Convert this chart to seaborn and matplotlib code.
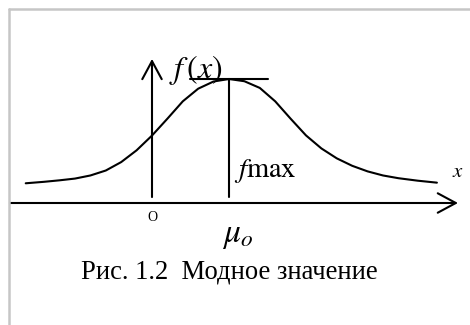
import matplotlib
matplotlib.use("Agg")
import matplotlib.pyplot as plt
from matplotlib.lines import Line2D
import seaborn as sns
import pandas as pd

# Density curve f(x), read point by point (x in units where O = 0, mode = 1; f_max = 1)
x_vals = [-1.64, -1.4, -1.2, -1.0, -0.8, -0.6, -0.4, -0.2, 0.0, 0.2, 0.4, 0.6, 0.8,
          1.0, 1.2, 1.4, 1.6, 1.8, 2.0, 2.2, 2.4, 2.6, 2.8, 3.0, 3.2, 3.45, 3.70]
f_vals = [0.159, 0.171, 0.183, 0.197, 0.222, 0.262, 0.330, 0.425, 0.544, 0.680, 0.820,
          0.922, 0.980, 1.0, 0.982, 0.928, 0.820, 0.680, 0.545, 0.440, 0.360, 0.300,
          0.255, 0.222, 0.200, 0.180, 0.164]

mode_x = 1.0
f_max = 1.0
caption = "Рис. 1.2  Модное значение"

sns.set_style("white")
plt.rcParams["font.family"] = ["Liberation Serif", "DejaVu Serif"]
plt.rcParams["mathtext.fontset"] = "stix"
plt.rcParams["text.color"] = "black"

fig = plt.figure(figsize=(4.7, 3.25), dpi=100)
ax = fig.add_axes([0, 0, 1, 1])
ax.set_xlim(-152 / 77, (470 - 152) / 77)
ax.set_ylim((203 - 325) / 124, 203 / 124)
ax.axis("off")

# light frame around the figure
frame_kw = dict(color="#c6c6c6", lw=1.8, transform=fig.transFigure)
fig.add_artist(Line2D([9 / 470, 9 / 470], [0, 1 - 9 / 325], **frame_kw))
fig.add_artist(Line2D([9 / 470, 1], [1 - 9 / 325, 1 - 9 / 325], **frame_kw))

df = pd.DataFrame({"x": x_vals, "f": f_vals})
sns.lineplot(data=df, x="x", y="f", ax=ax, color="black", lw=1.5, sort=False)

lw = 1.5
arrow = dict(arrowstyle="->,head_length=13,head_width=7",
             mutation_scale=1, lw=lw, color="black", shrinkA=0, shrinkB=0)
# x axis
ax.annotate("", xy=(3.974, 0), xytext=(-1.844, 0), arrowprops=arrow)
# y axis
ax.annotate("", xy=(0, 1.162), xytext=(0, 0.048), arrowprops=arrow)

# maximum: tangent and ordinate at the mode
ax.plot([mode_x - 0.51, mode_x + 0.51], [f_max, f_max], color="black", lw=lw)
ax.plot([mode_x, mode_x], [f_max, 0.048], color="black", lw=lw)

ax.text(0.22, 1.075, r"$f\,(x)$", fontsize=23, ha="left", va="center", color="black")
ax.text(mode_x + 0.065, 0.21, r"$f\mathrm{max}$", fontsize=20.5, ha="left",
        va="baseline", color="black")
ax.text(3.974, 0.21, r"$x$", fontsize=15, ha="center", va="baseline", color="black")
ax.text(0, -0.113, "O", fontsize=10, ha="center", va="center", color="black")
ax.text(mode_x - 0.09, -0.266, r"$\mu_o$", fontsize=24, ha="left", va="center",
        color="black")
ax.text(mode_x, -0.605, caption, fontsize=19.2, ha="center", va="baseline",
        color="black")

fig.savefig("out.png", dpi=100)
